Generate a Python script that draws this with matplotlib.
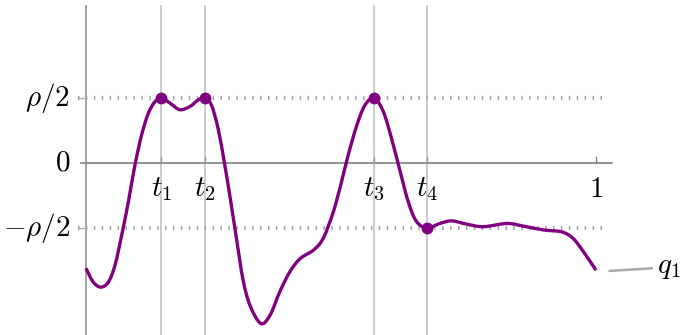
import numpy as np
import matplotlib.pyplot as plt
from matplotlib.path import Path
from matplotlib.patches import PathPatch

plt.rcParams['mathtext.fontset'] = 'cm'

# sample of q1 over [0, 1], y measured in units of rho/2
t_vals = [0.0, 0.014, 0.029, 0.044, 0.057, 0.070, 0.083, 0.096, 0.109, 0.122,
          0.135, 0.148, 0.165, 0.184, 0.204, 0.220, 0.233, 0.246, 0.259, 0.271,
          0.282, 0.295, 0.308, 0.322, 0.343, 0.361, 0.380, 0.400, 0.420, 0.446,
          0.465, 0.485, 0.501, 0.514, 0.531, 0.547, 0.565, 0.583, 0.599, 0.616,
          0.632, 0.648, 0.669, 0.694, 0.717, 0.746, 0.779, 0.825, 0.857, 0.897,
          0.933, 0.955, 0.975, 1.0]
q1_vals = [-1.62, -1.83, -1.91, -1.83, -1.57, -1.11, -0.60, -0.03, 0.43, 0.76,
           0.94, 1.0, 0.92, 0.82, 0.87, 0.97, 1.0, 0.89, 0.53, 0.02,
           -0.50, -1.16, -1.80, -2.20, -2.47, -2.34, -1.98, -1.67, -1.47, -1.34,
           -1.16, -0.75, -0.29, 0.12, 0.58, 0.89, 1.0, 0.79, 0.38, -0.13,
           -0.60, -0.90, -1.0, -0.93, -0.89, -0.94, -0.98, -0.93, -0.97, -1.03,
           -1.06, -1.16, -1.36, -1.65]

# marked instants and the level hit there
t_marks = [0.148, 0.233, 0.565, 0.669]
q_marks = [1.0, 1.0, 1.0, -1.0]
t_labels = [r'$t_1$', r'$t_2$', r'$t_3$', r'$t_4$']
y_ticks = [1.0, 0.0, -1.0]
y_labels = [r'$\rho/2$', r'$0$', r'$-\rho/2$']

purple = '#800080'
fs = 21


def smooth_path(xs, ys):
    # cubic bezier segments through the samples (catmull-rom style)
    p = np.column_stack([xs, ys])
    ext = np.vstack([p[0], p, p[-1]])
    verts = [p[0]]
    codes = [Path.MOVETO]
    for i in range(len(p) - 1):
        a, b, c, d = ext[i], ext[i + 1], ext[i + 2], ext[i + 3]
        verts += [b + (c - a) / 6, c - (d - b) / 6, c]
        codes += [Path.CURVE4] * 3
    return Path(verts, codes)


fig = plt.figure(figsize=(6.81, 3.35), dpi=100)
ax = fig.add_axes([0, 0, 1, 1])
ax.set_xlim(-86 / 510, 595 / 510)
ax.set_ylim(-172 / 65, 163 / 65)
ax.axis('off')

top, bottom = 2.415, -2.7

# vertical guides at the marked instants
for t in t_marks:
    ax.plot([t, t], [bottom, top], color='#c8c8c8', lw=1.3, zorder=1)

# axes
ax.plot([0, 0], [bottom, top], color='#a0a0a0', lw=1.4, zorder=2)
ax.plot([-0.01, 1.031], [0, 0], color='#808080', lw=1.2, zorder=2)
ax.plot([1.0, 1.0], [0, 0.09], color='#808080', lw=1.0, zorder=2)
for t in t_marks:
    ax.plot([t, t], [0, 0.09], color='#9a9a9a', lw=1.0, zorder=2)

# dotted levels at +-rho/2
for y in (1.0, -1.0):
    ax.plot([-0.016, 1.014], [y, y], color='#a4a4a4', lw=3.0,
            linestyle=(0, (0.35, 1.55)), zorder=2)
    ax.plot([-0.016, 0], [y, y], color='#a8a8a8', lw=1.0, zorder=2)

curve = PathPatch(smooth_path(t_vals, q1_vals), facecolor='none',
                  edgecolor=purple, lw=2.4, capstyle='butt', zorder=3)
ax.add_patch(curve)
ax.plot(t_marks, q_marks, 'o', color=purple, markersize=7.5, zorder=4)

for y, lab in zip(y_ticks, y_labels):
    ax.text(-0.031, y, lab, ha='right', va='center', fontsize=fs)
for t, lab in zip(t_marks, t_labels):
    ax.text(t, -0.4, lab, ha='center', va='center', fontsize=fs)
ax.text(1.0, -0.4, r'$1$', ha='center', va='center', fontsize=fs)

# legend entry
ax.plot([1.027, 1.109], [-1.66, -1.62], color='#a8a8a8', lw=1.8)
ax.text(1.12, -1.60, r'$q_1$', ha='left', va='center', fontsize=fs)

fig.savefig('out.png', dpi=100)
